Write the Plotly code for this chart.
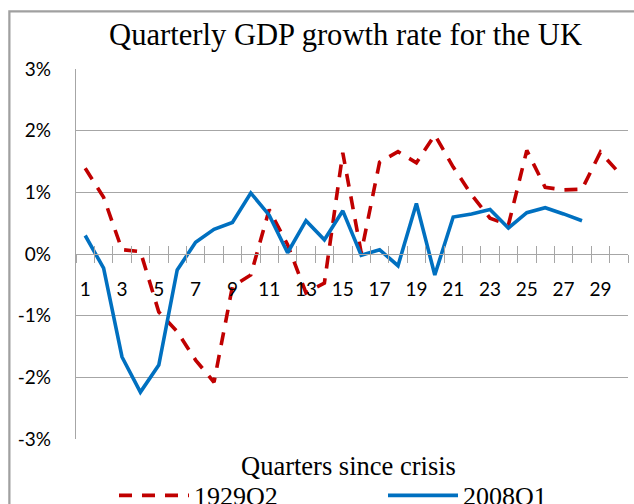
import plotly.graph_objects as go

quarters = list(range(1, 31))
gdp_1929q2 = [1.39, 0.92, 0.07, 0.04, -0.94, -1.26, -1.72, -2.08, -0.53, -0.34,
              0.72, 0.15, -0.63, -0.47, 1.64, 0.02, 1.49, 1.66, 1.48, 1.93,
              1.41, 0.96, 0.58, 0.47, 1.68, 1.08, 1.04, 1.05, 1.65, 1.32]
gdp_2008q1 = [0.30, -0.23, -1.67, -2.24, -1.80, -0.26, 0.19, 0.40, 0.51, 0.99,
              0.63, 0.02, 0.54, 0.23, 0.70, -0.02, 0.07, -0.19, 0.82, -0.34,
              0.60, 0.65, 0.72, 0.42, 0.67, 0.75, 0.65, 0.54]
y_ticks = [-3, -2, -1, 0, 1, 2, 3]
y_ticktext = ["-3%", "-2%", "-1%", "0%", "1%", "2%", "3%"]
x_label_vals = list(range(1, 30, 2))
x_label_text = [str(v) for v in x_label_vals]
boundaries = [q - 0.5 for q in quarters] + [30.5]

GRID = "#A6A6A6"
SERIF = "Liberation Serif"
SANS = "Lato"

fig = go.Figure()
fig.add_trace(go.Scatter(x=quarters, y=gdp_1929q2, name="1929Q2", mode="lines",
                         line=dict(color="#C00000", width=3.6, dash="13px,10px"),
                         xaxis="x", yaxis="y", legend="legend"))
fig.add_trace(go.Scatter(x=quarters[:len(gdp_2008q1)], y=gdp_2008q1, name="2008Q1", mode="lines",
                         line=dict(color="#0070C0", width=3.6),
                         xaxis="x2", yaxis="y", legend="legend2"))

legend_common = dict(orientation="h", xanchor="left", y=-0.089, yanchor="top",
                     font=dict(family=SERIF, size=26, color="black"),
                     itemwidth=70, bgcolor="rgba(0,0,0,0)")

BORDER_TOP = (439.3 - 11) / 370.3
BORDER_LEFT = (9 - 76) / 552

fig.update_layout(
    width=634, height=504,
    margin=dict(l=76, r=6, t=69, b=65, autoexpand=False),
    paper_bgcolor="white", plot_bgcolor="white",
    title=dict(text="Quarterly GDP growth rate for the UK", x=0.545, xref="container",
               xanchor="center", y=1 - 34 / 504, yref="container", yanchor="middle",
               font=dict(family=SERIF, size=30.6, color="black")),
    xaxis=dict(range=[0.5, 30.5], anchor="free", position=0.5, showline=True,
               linecolor=GRID, linewidth=1.3, showgrid=False, zeroline=False,
               tickmode="array", tickvals=x_label_vals, ticktext=x_label_text,
               ticks="", ticklabelstandoff=18,
               tickfont=dict(family=SANS, size=19, color="black"),
               minor=dict(tickmode="array", tickvals=boundaries, ticks="outside",
                          ticklen=8, tickwidth=1.3, tickcolor=GRID, showgrid=False)),
    xaxis2=dict(range=[0.5, 30.5], overlaying="x", anchor="free", position=0.5,
                showline=False, showgrid=False, zeroline=False, showticklabels=False,
                tickmode="array", tickvals=boundaries, ticks="inside", ticklen=8,
                tickwidth=1.3, tickcolor=GRID),
    yaxis=dict(range=[-3, 3], domain=[0, 1], showline=True, linecolor=GRID, linewidth=1.3,
               showgrid=True, gridcolor=GRID, gridwidth=1.3, zeroline=False,
               tickmode="array", tickvals=y_ticks, ticktext=y_ticktext, ticks="",
               ticklabelstandoff=20,
               tickfont=dict(family=SANS, size=19, color="black"),
               automargin=False),
    legend=dict(x=(114 - 76) / 552, **legend_common),
    legend2=dict(x=(383 - 76) / 552, **legend_common),
    showlegend=True,
    annotations=[
        dict(text="Quarters since crisis", x=(348 - 76) / 552, y=(439.3 - 466) / 370.3,
             xref="paper", yref="paper", showarrow=False, xanchor="center",
             yanchor="middle", font=dict(family=SERIF, size=26.5, color="black")),
        dict(text=" ", x=BORDER_LEFT, y=BORDER_TOP, xref="paper", yref="paper",
             showarrow=False, xanchor="left", yanchor="top", width=700, height=600,
             borderpad=0, bordercolor="#A0A0A0", borderwidth=1.5,
             bgcolor="rgba(0,0,0,0)"),
    ],
    shapes=[
        dict(type="path", xref="paper", yref="paper",
             path=f"M {BORDER_LEFT},-0.3 L {BORDER_LEFT},{BORDER_TOP} L 1.05,{BORDER_TOP}",
             line=dict(color="#A0A0A0", width=1.5), layer="above"),
    ],
)

fig.write_html("out.html", config={"displayModeBar": False},
               post_script="document.body.style.margin='0';document.body.style.overflow='hidden';")
